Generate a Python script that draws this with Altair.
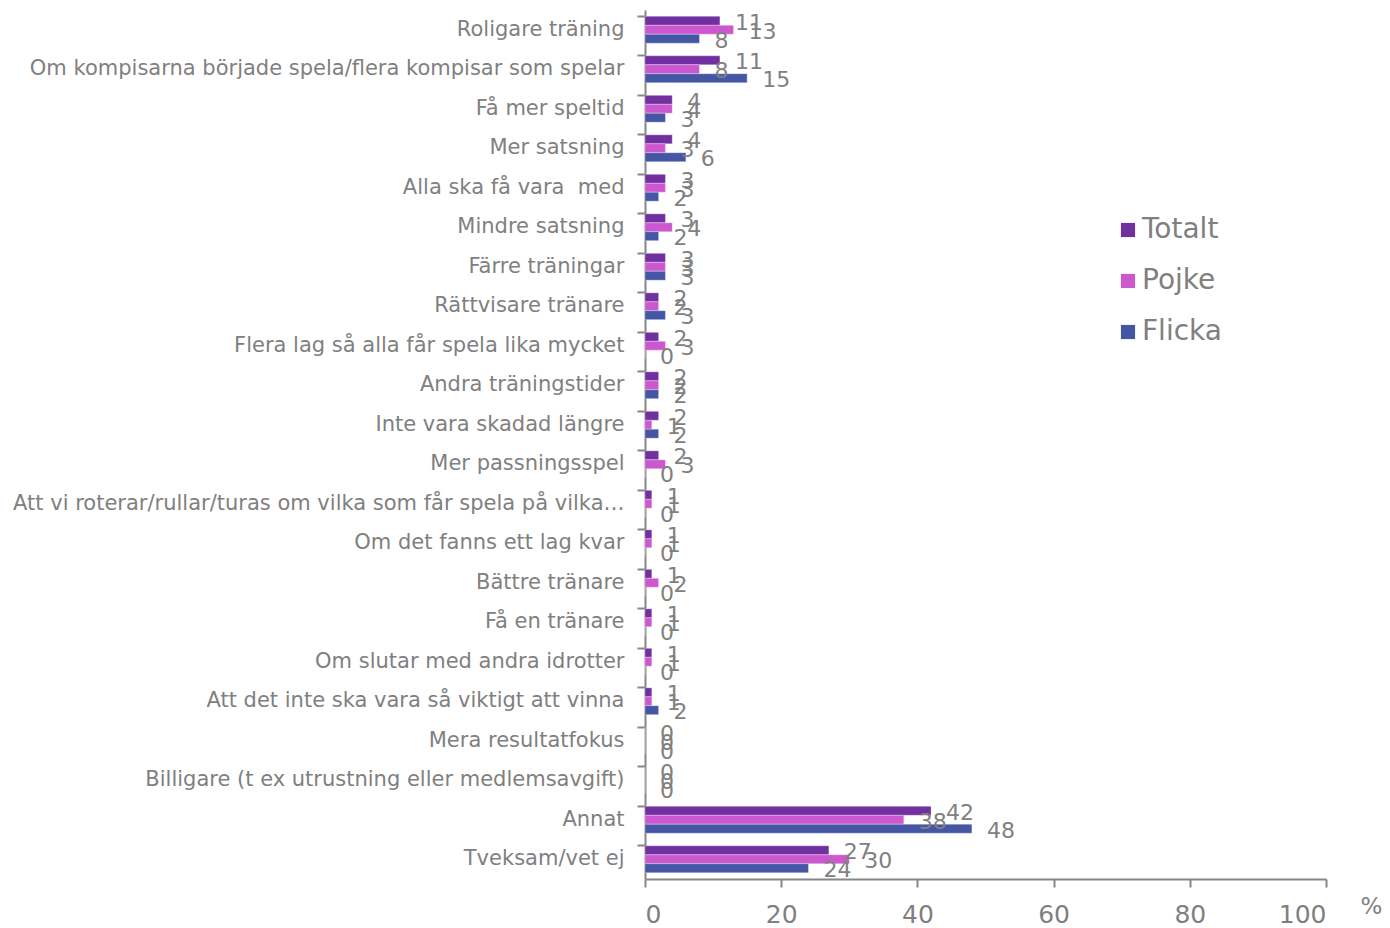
import altair as alt
import pandas as pd

categories = [
    "Roligare träning",
    "Om kompisarna började spela/flera kompisar som spelar",
    "Få mer speltid",
    "Mer satsning",
    "Alla ska få vara\u00a0 med",
    "Mindre satsning",
    "Färre träningar",
    "Rättvisare tränare",
    "Flera lag så alla får spela lika mycket",
    "Andra träningstider",
    "Inte vara skadad längre",
    "Mer passningsspel",
    "Att vi roterar/rullar/turas om vilka som får spela på vilka…",
    "Om det fanns ett lag kvar",
    "Bättre tränare",
    "Få en tränare",
    "Om slutar med andra idrotter",
    "Att det inte ska vara så viktigt att vinna",
    "Mera resultatfokus",
    "Billigare (t ex utrustning eller medlemsavgift)",
    "Annat",
    "Tveksam/vet ej",
]
series = ["Totalt", "Pojke", "Flicka"]
totalt = [11, 11, 4, 4, 3, 3, 3, 2, 2, 2, 2, 2, 1, 1, 1, 1, 1, 1, 0, 0, 42, 27]
pojke = [13, 8, 4, 3, 3, 4, 3, 2, 3, 2, 1, 3, 1, 1, 2, 1, 1, 1, 0, 0, 38, 30]
flicka = [8, 15, 3, 6, 2, 2, 3, 3, 0, 2, 2, 0, 0, 0, 0, 0, 0, 2, 0, 0, 48, 24]
colors = ["#7030A0", "#CC58CF", "#4556A5"]

rows = []
for i, c in enumerate(categories):
    for s, vals in zip(series, [totalt, pojke, flicka]):
        rows.append({"cat": c, "series": s, "value": vals[i]})
df = pd.DataFrame(rows)

FONT = "DejaVu Sans"
GRAY = "#808080"

y_enc = alt.Y(
    "cat:N",
    sort=categories,
    scale=alt.Scale(paddingInner=0.32, paddingOuter=0.16),
    axis=alt.Axis(
        title=None,
        bandPosition=0,
        labelFontSize=21,
        labelColor=GRAY,
        labelFont=FONT,
        labelPadding=13,
        labelLimit=700,
        tickSize=8,
        tickColor="#868686",
        tickWidth=2,
        domainColor="#868686",
        domainWidth=2,
    ),
)
y_off = alt.YOffset("series:N", sort=series, scale=alt.Scale(paddingInner=0, paddingOuter=0))

bars = alt.Chart(df).mark_bar(stroke="white", strokeWidth=0.6, strokeOpacity=0.5).encode(
    x=alt.X(
        "value:Q",
        scale=alt.Scale(domain=[0, 100]),
        axis=alt.Axis(
            values=[0, 20, 40, 60, 80, 100],
            title="%",
            titleFont=FONT,
            titleFontSize=23,
            titleFontWeight="normal",
            titleColor=GRAY,
            titleX=726,
            titleY=34,
            titleBaseline="alphabetic",
            titleAnchor="start",
            titleAlign="center",
            grid=False,
            labelFontSize=25,
            labelColor=GRAY,
            labelFont=FONT,
            labelPadding=15,
            tickSize=8,
            tickColor="#868686",
            tickWidth=2,
            domainColor="#868686",
            domainWidth=2,
        ),
    ),
    y=y_enc,
    yOffset=y_off,
    color=alt.Color(
        "series:N",
        sort=series,
        scale=alt.Scale(domain=series, range=colors),
        legend=alt.Legend(
            title=None,
            orient="none",
            legendX=469,
            legendY=206,
            symbolType="square",
            symbolSize=200,
            symbolStrokeWidth=0,
            labelFontSize=28,
            labelFont=FONT,
            labelColor=GRAY,
            rowPadding=23,
            labelOffset=0,
        ),
    ),
)

labels = alt.Chart(df).mark_text(
    align="left", baseline="middle", dx=15, dy=2, fontSize=22, font=FONT, color=GRAY
).encode(
    x="value:Q",
    y=alt.Y("cat:N", sort=categories),
    yOffset=alt.YOffset("series:N", sort=series),
    text="value:Q",
)

chart = (
    alt.layer(bars, labels)
    .properties(
        width=681,
        height=869,
        autosize=alt.AutoSizeParams(type="none"),
        padding={"left": 637, "top": 2, "right": 56, "bottom": 48},
        background="white",
    )
    .configure_view(stroke=None)
)

chart.save("out.html", embed_options={"renderer": "svg", "actions": False})
